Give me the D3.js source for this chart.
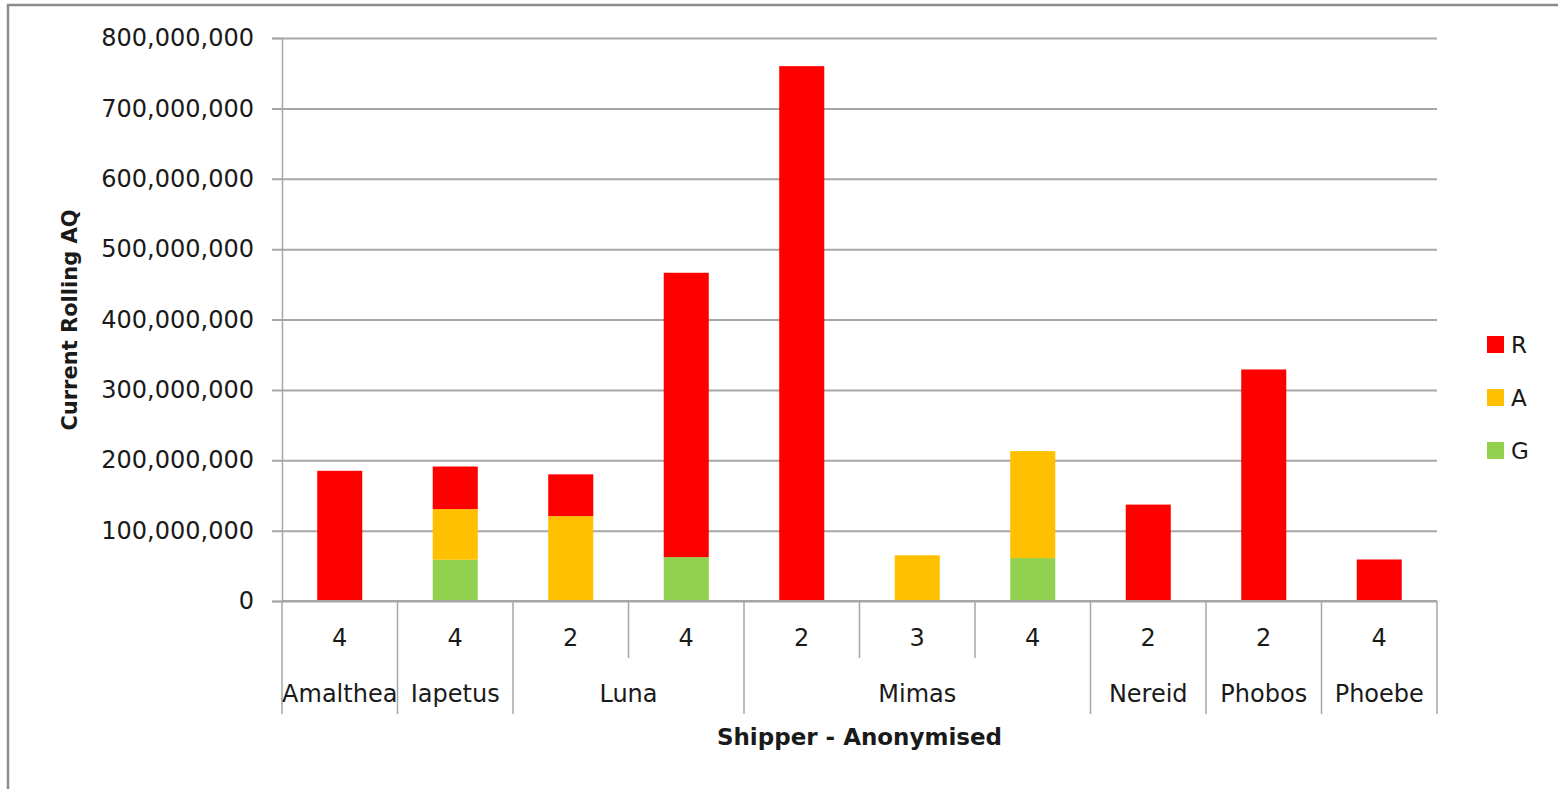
<!DOCTYPE html>
<html>
<head>
<meta charset="utf-8">
<script src="https://cdn.jsdelivr.net/npm/d3@7"></script>
<style>
  body { margin: 0; background: #fff; }
  text { font-family: "DejaVu Sans", sans-serif; fill: #1a1a1a; }
</style>
</head>
<body>
<div id="chart"></div>
<script>
// data
var shippers = ["Amalthea", "Iapetus", "Luna", "Luna", "Mimas", "Mimas", "Mimas", "Nereid", "Phobos", "Phoebe"];
var levels = ["4", "4", "2", "4", "2", "3", "4", "2", "2", "4"];
var seriesNames = ["R", "A", "G"];
var valuesG = [0, 58.6e6, 0, 62.4e6, 0, 0, 61e6, 0, 0, 0];
var valuesA = [0, 72e6, 120.6e6, 0, 0, 65e6, 152e6, 0, 0, 0];
var valuesR = [185e6, 60.5e6, 59.4e6, 404e6, 760e6, 0, 0, 137e6, 329e6, 59e6];
var yTicks = [0, 100e6, 200e6, 300e6, 400e6, 500e6, 600e6, 700e6, 800e6];
var colors = { R: "#ff0000", A: "#ffc000", G: "#92d050" };

var W = 1558, H = 789;
var margin = { top: 38, left: 282, right: 121, bottom: 188 };
var width = W - margin.left - margin.right,
    height = H - margin.top - margin.bottom;

var svg = d3.select("#chart").append("svg")
    .attr("width", W)
    .attr("height", H);

// outer chart border (top and left visible)
svg.append("path")
    .attr("d", "M8,789 L8,5 L1558,5")
    .attr("fill", "none")
    .attr("stroke", "#8c8c8c")
    .attr("stroke-width", 2.5);

var g = svg.append("g")
    .attr("transform", "translate(" + margin.left + "," + margin.top + ")");

var x = d3.scaleBand()
    .domain(d3.range(shippers.length))
    .range([0, width])
    .padding(0);
var y = d3.scaleLinear()
    .domain([0, 800e6])
    .range([height, 0]);

// gridlines + y axis
var yAxis = g.append("g")
    .call(d3.axisLeft(y).tickValues(yTicks).tickFormat(d3.format(",")).tickSize(10).tickPadding(18));
yAxis.select(".domain").attr("stroke", "#a6a6a6").attr("stroke-width", 1.5);
yAxis.selectAll(".tick line").attr("stroke", "#a6a6a6").attr("stroke-width", 2)
    .attr("x2", -10).attr("x1", width);
yAxis.selectAll(".tick text").attr("font-size", 24).attr("font-family", "DejaVu Sans").attr("fill", "#1a1a1a");

// stacked bars
var rows = shippers.map(function (s, i) {
    return { i: i, G: valuesG[i], A: valuesA[i], R: valuesR[i] };
});
var stack = d3.stack().keys(["G", "A", "R"]);
var layers = stack(rows);
var barW = x.bandwidth() * 0.39;

g.selectAll(".layer")
    .data(layers)
    .enter().append("g")
    .attr("class", "layer")
    .attr("fill", function (d) { return colors[d.key]; })
    .selectAll("rect")
    .data(function (d) { return d.filter(function (p) { return p[1] - p[0] > 0; }); })
    .enter().append("rect")
    .attr("x", function (d) { return x(d.data.i) + (x.bandwidth() - barW) / 2; })
    .attr("width", barW)
    .attr("y", function (d) { return y(d[1]); })
    .attr("height", function (d) { return y(d[0]) - y(d[1]); });

// x axis baseline
g.append("line")
    .attr("x1", 0).attr("x2", width)
    .attr("y1", height).attr("y2", height)
    .attr("stroke", "#a6a6a6").attr("stroke-width", 2);

// multi-level category axis
var axisG = g.append("g").attr("transform", "translate(0," + height + ")");
var bounds = d3.range(shippers.length + 1);
axisG.selectAll(".div")
    .data(bounds)
    .enter().append("line")
    .attr("x1", function (i) { return i < shippers.length ? x(i) : width; })
    .attr("x2", function (i) { return i < shippers.length ? x(i) : width; })
    .attr("y1", 0)
    .attr("y2", function (i) {
        var groupEdge = i === 0 || i === shippers.length || shippers[i] !== shippers[i - 1];
        return groupEdge ? 113 : 57;
    })
    .attr("stroke", "#a6a6a6").attr("stroke-width", 1.5);

axisG.selectAll(".lvl1")
    .data(levels)
    .enter().append("text")
    .attr("x", function (d, i) { return x(i) + x.bandwidth() / 2; })
    .attr("y", 45)
    .attr("text-anchor", "middle")
    .attr("font-size", 24)
    .text(function (d) { return d; });

var groups = [];
shippers.forEach(function (s, i) {
    var last = groups[groups.length - 1];
    if (last && last.name === s) last.end = i;
    else groups.push({ name: s, start: i, end: i });
});
axisG.selectAll(".lvl2")
    .data(groups)
    .enter().append("text")
    .attr("x", function (d) { return (x(d.start) + x(d.end) + x.bandwidth()) / 2; })
    .attr("y", 101)
    .attr("text-anchor", "middle")
    .attr("font-size", 24)
    .text(function (d) { return d.name; });

// axis titles
svg.append("text")
    .attr("x", margin.left + width / 2)
    .attr("y", 745)
    .attr("text-anchor", "middle")
    .attr("font-size", 23)
    .attr("font-weight", "bold")
    .text("Shipper - Anonymised");

svg.append("text")
    .attr("transform", "translate(77,320) rotate(-90)")
    .attr("text-anchor", "middle")
    .attr("font-size", 21)
    .attr("font-weight", "bold")
    .text("Current Rolling AQ");

// legend
var legend = svg.append("g").attr("transform", "translate(1487,336)");
var lg = legend.selectAll(".item")
    .data(seriesNames)
    .enter().append("g")
    .attr("transform", function (d, i) { return "translate(0," + i * 53 + ")"; });
lg.append("rect")
    .attr("width", 17).attr("height", 17)
    .attr("fill", function (d) { return colors[d]; });
lg.append("text")
    .attr("x", 24).attr("y", 17)
    .attr("font-size", 23)
    .text(function (d) { return d; });
</script>
</body>
</html>
